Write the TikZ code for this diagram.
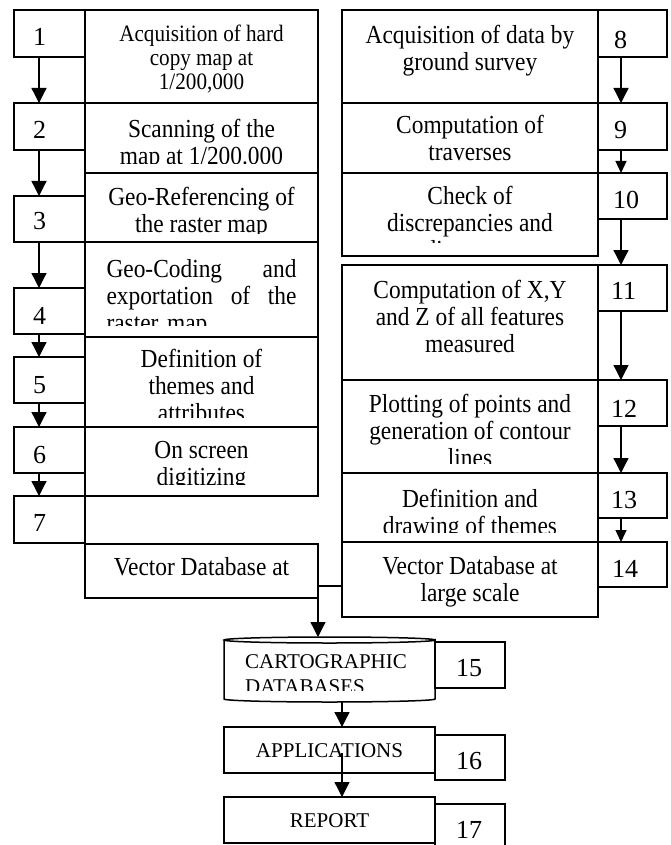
\documentclass[tikz,border=0pt]{standalone}
\usepackage{fontspec}
\setmainfont{Liberation Serif}
\newfontfamily\tallfont[FakeStretch=0.9]{Liberation Serif}
\usetikzlibrary{arrows.meta, fit}

\tikzset{
	box/.style={draw, line width=1.5pt, inner sep=0pt, outer sep=0pt},
	txt/.style={anchor=north, align=center, inner sep=0pt, font=\tallfont\fontsize{26}{27}\selectfont},
	captxt/.style={anchor=north, align=center, inner sep=0pt, font=\fontsize{21}{25}\selectfont},
	num/.style={anchor=west, inner sep=0pt, font=\fontsize{26}{28}\selectfont},
	arr/.style={line width=1.3pt, -{Triangle[width=15pt, length=15pt]}},
	sarr/.style={line width=1.3pt, -{Triangle[width=11pt, length=12pt]}}
}

\begin{document}
\begin{tikzpicture}[x=1pt, y=-1pt]
	\useasboundingbox (0,0) rectangle (671,845);
	
	% left column: text boxes
	\node[box, fit={(85,10) (318,103)}] (t1) {};
	\node[box, fit={(85,103) (318,173)}] (t2) {};
	\node[box, fit={(85,173) (318,242)}] (t3) {};
	\node[box, fit={(85,242) (318,337)}] (t4) {};
	\node[box, fit={(85,337) (318,427)}] (t5) {};
	\node[box, fit={(85,427) (318,496)}] (t6) {};
	\node[box, fit={(85,544) (318,598)}] (t7) {};
	
	% left column: number boxes
	\node[box, fit={(14,10) (85,57)}] (n1) {};
	\node[box, fit={(14,103) (85,150)}] (n2) {};
	\node[box, fit={(14,196) (85,242)}] (n3) {};
	\node[box, fit={(14,288) (85,334)}] (n4) {};
	\node[box, fit={(14,357) (85,403)}] (n5) {};
	\node[box, fit={(14,427) (85,473)}] (n6) {};
	\node[box, fit={(14,496) (85,543)}] (n7) {};
	
	% right column: text boxes
	\node[box, fit={(342,10) (598,103)}] (t8) {};
	\node[box, fit={(342,103) (598,173)}] (t9) {};
	\node[box, fit={(342,173) (598,256)}] (t10) {};
	\node[box, fit={(342,265) (598,380)}] (t11) {};
	\node[box, fit={(342,380) (598,473)}] (t12) {};
	\node[box, fit={(342,473) (598,542)}] (t13) {};
	\node[box, fit={(342,542) (598,617)}] (t14) {};
	
	% right column: number boxes
	\node[box, fit={(598,10) (667,57)}] (n8) {};
	\node[box, fit={(598,103) (667,150)}] (n9) {};
	\node[box, fit={(598,173) (667,219)}] (n10) {};
	\node[box, fit={(598,265) (667,311)}] (n11) {};
	\node[box, fit={(598,380) (667,426)}] (n12) {};
	\node[box, fit={(598,473) (667,518)}] (n13) {};
	\node[box, fit={(598,542) (667,587)}] (n14) {};
	
	% bottom part
	\node[inner sep=0pt, outer sep=0pt, fit={(224,637) (435,702)}] (db) {};
	\draw[line width=1.5pt] ([yshift=-3pt]db.north west) -- ([yshift=3pt]db.south west)
		arc[start angle=180, end angle=360, x radius=105.5pt, y radius=3pt]
		-- ([yshift=-3pt]db.north east)
		arc[start angle=0, end angle=-180, x radius=105.5pt, y radius=3pt]
		arc[start angle=180, end angle=0, x radius=105.5pt, y radius=3pt];
	\node[box, fit={(224,727) (435,773)}] (app) {};
	\node[box, fit={(224,797) (435,843)}] (rep) {};
	\node[box, fit={(435,642) (505,688)}] (n15) {};
	\node[box, fit={(435,735) (505,780)}] (n16) {};
	\node[box, fit={(435,804) (505,852)}] (n17) {};
	
	% texts
	\node[txt, font=\tallfont\fontsize{23.5}{24}\selectfont] (l1) at ([yshift=-15pt]t1.north) {\strut Acquisition of hard\\copy map at\\1/200,000};
	\begin{scope}
		\clip (t2.north west) rectangle ([yshift=9pt]t2.south east);
		\node[txt] (l2) at ([yshift=-15pt]t2.north) {\strut Scanning of the\\map at 1/200.000};
	\end{scope}
	\begin{scope}
		\clip (t3.north west) rectangle ([yshift=9pt]t3.south east);
		\node[txt] (l3) at ([yshift=-13pt]t3.north) {\strut Geo-Referencing of\\the raster map};
	\end{scope}
	\begin{scope}
		\clip (t4.north west) rectangle ([yshift=12pt]t4.south east);
		\node[txt, text width=190pt, align=left] (l4) at ([yshift=-16pt]t4.north) {\strut Geo-Coding\hfill and\\exportation\hfill of\hfill the\\raster map};
	\end{scope}
	\begin{scope}
		\clip (t5.north west) rectangle ([yshift=10pt]t5.south east);
		\node[txt] (l5) at ([yshift=-11pt]t5.north) {\strut Definition of\\themes and\\attributes};
	\end{scope}
	\begin{scope}
		\clip (t6.north west) rectangle ([yshift=12pt]t6.south east);
		\node[txt] (l6) at ([yshift=-12pt]t6.north) {\strut On screen\\digitizing};
	\end{scope}
	\node[txt] (l7) at ([yshift=-12pt]t7.north) {\strut Vector Database at};
	
	\node[txt] (l8) at ([yshift=-14pt]t8.north) {\strut Acquisition of data by\\ground survey};
	\begin{scope}
		\clip (t9.north west) rectangle ([yshift=7pt]t9.south east);
		\node[txt] (l9) at ([yshift=-11pt]t9.north) {\strut Computation of\\traverses};
	\end{scope}
	\begin{scope}
		\clip (t10.north west) rectangle ([yshift=13.5pt]t10.south east);
		\node[txt] (l10) at ([yshift=-12pt]t10.north) {\strut Check of\\discrepancies and\\adjustments};
	\end{scope}
	\node[txt] (l11) at ([yshift=-14pt]t11.north) {\strut Computation of X,Y\\and Z of all features\\measured};
	\begin{scope}
		\clip (t12.north west) rectangle ([yshift=10pt]t12.south east);
		\node[txt] (l12) at ([yshift=-13pt]t12.north) {\strut Plotting of points and\\generation of contour\\lines};
	\end{scope}
	\begin{scope}
		\clip (t13.north west) rectangle ([yshift=10pt]t13.south east);
		\node[txt] (l13) at ([yshift=-15pt]t13.north) {\strut Definition and\\drawing of themes};
	\end{scope}
	\node[txt] (l14) at ([yshift=-13pt]t14.north) {\strut Vector Database at\\large scale};
	
	\begin{scope}
		\clip (db.north west) rectangle ([yshift=12pt]db.south east);
		\node[captxt, anchor=north west, align=left] (ldb) at ([xshift=21pt, yshift=-13.5pt]db.north west) {\strut CARTOGRAPHIC\\DATABASES};
	\end{scope}
	\node[captxt] (lapp) at ([yshift=-12.5pt]app.north) {\strut APPLICATIONS};
	\node[captxt] (lrep) at ([yshift=-12.5pt]rep.north) {\strut REPORT};
	
	% numbers
	\node[num] (k1) at ([xshift=19pt, yshift=-27pt]n1.north west) {1};
	\node[num] (k2) at ([xshift=19pt, yshift=-27pt]n2.north west) {2};
	\node[num] (k3) at ([xshift=19pt, yshift=-25pt]n3.north west) {3};
	\node[num] (k4) at ([xshift=19pt, yshift=-28pt]n4.north west) {4};
	\node[num] (k5) at ([xshift=19pt, yshift=-28pt]n5.north west) {5};
	\node[num] (k6) at ([xshift=19pt, yshift=-28pt]n6.north west) {6};
	\node[num] (k7) at ([xshift=19pt, yshift=-27pt]n7.north west) {7};
	\node[num] (k8) at ([xshift=16pt, yshift=-30pt]n8.north west) {8};
	\node[num] (k9) at ([xshift=16pt, yshift=-27pt]n9.north west) {9};
	\node[num] (k10) at ([xshift=15pt, yshift=-27pt]n10.north west) {10};
	\node[num] (k11) at ([xshift=13pt, yshift=-26pt]n11.north west) {11};
	\node[num] (k12) at ([xshift=13pt, yshift=-29pt]n12.north west) {12};
	\node[num] (k13) at ([xshift=13pt, yshift=-27pt]n13.north west) {13};
	\node[num] (k14) at ([xshift=14pt, yshift=-27pt]n14.north west) {14};
	\node[num, anchor=center] (k15) at ([xshift=-1pt, yshift=-26pt]n15.north) {15};
	\node[num, anchor=center] (k16) at ([xshift=-1pt, yshift=-26pt]n16.north) {16};
	\node[num, anchor=center] (k17) at ([xshift=-1pt, yshift=-26pt]n17.north) {17};
	
	% arrows
	\draw[arr] ([xshift=-10.5pt]n1.south) -- ([xshift=-10.5pt]n2.north);
	\draw[arr] ([xshift=-10.5pt]n2.south) -- ([xshift=-10.5pt]n3.north);
	\draw[arr] ([xshift=-10.5pt]n3.south) -- ([xshift=-10.5pt]n4.north);
	\draw[arr] ([xshift=-10.5pt]n4.south) -- ([xshift=-10.5pt]n5.north);
	\draw[arr] ([xshift=-10.5pt]n5.south) -- ([xshift=-10.5pt]n6.north);
	\draw[arr] ([xshift=-10.5pt]n6.south) -- ([xshift=-10.5pt]n7.north);
	
	\draw[arr] ([xshift=-11.5pt]n8.south) -- ([xshift=-11.5pt]n9.north);
	\draw[sarr] ([xshift=-11.5pt]n9.south) -- ([xshift=-11.5pt]n10.north);
	\draw[arr] ([xshift=-11.5pt]n10.south) -- ([xshift=-11.5pt]n11.north);
	\draw[arr] ([xshift=-11.5pt]n11.south) -- ([xshift=-11.5pt]n12.north);
	\draw[arr] ([xshift=-11.5pt]n12.south) -- ([xshift=-11.5pt]n13.north);
	\draw[sarr] ([xshift=-11.5pt]n13.south) -- ([xshift=-11.5pt]n14.north);
	
	\coordinate (jn) at (318,586);
	\draw[line width=1.3pt] (jn) -- (jn -| t14.west);
	\draw[arr] (t7.south east) -- (t7.south east |- db.north);
	\draw[arr] ([xshift=12.5pt]db.south) -- ([xshift=12.5pt]app.north);
	\draw[arr] ([xshift=12.5pt, yshift=-3pt]app.center) -- ([xshift=12.5pt]rep.north);
	
\end{tikzpicture}
\end{document}
